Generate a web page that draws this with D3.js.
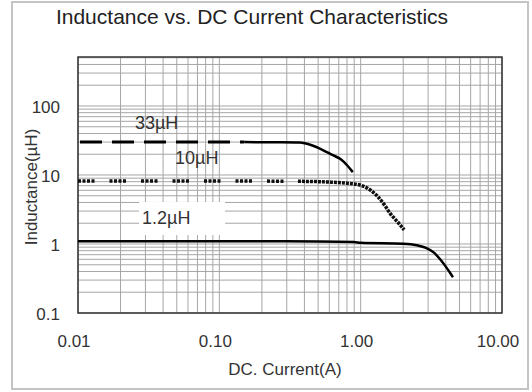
<!DOCTYPE html>
<html>
<head>
<meta charset="utf-8">
<script src="https://cdn.jsdelivr.net/npm/d3@7"></script>
<style>
  body { margin: 0; background: #fff; }
  svg { display: block; font-family: "Liberation Sans", Arial, sans-serif; }
</style>
</head>
<body>
<div id="chart"></div>
<script>
// axis ticks
var xTickValues = [0.01, 0.1, 1, 10];
var xTickLabels = ["0.01", "0.10", "1.00", "10.00"];
var yTickValues = [0.1, 1, 10, 100];
var yTickLabels = ["0.1", "1", "10", "100"];

// DC current (A) / inductance (uH)
var cur33 = [0.01, 0.03, 0.1, 0.15, 0.25, 0.37, 0.45, 0.54, 0.63, 0.72, 0.81, 0.88];
var ind33 = [30, 30, 30, 30, 29.8, 29.5, 27, 23, 19.5, 17, 13.5, 11];

var cur10 = [0.01, 0.03, 0.1, 0.36, 0.6, 0.8, 1.0, 1.15, 1.33, 1.5, 1.61, 1.75, 1.9, 2.03];
var ind10 = [8.2, 8.2, 8.2, 8.1, 7.9, 7.6, 7.1, 6.2, 4.8, 3.5, 2.8, 2.3, 1.9, 1.6];

var cur12 = [0.01, 0.1, 0.5, 0.9, 1.0, 2.0, 2.5, 2.9, 3.3, 3.65, 4.0, 4.3, 4.5];
var ind12 = [1.1, 1.1, 1.09, 1.07, 1.04, 1.01, 0.96, 0.88, 0.75, 0.6, 0.47, 0.38, 0.33];

var seriesLabels = ["33\u00b5H", "10\u00b5H", "1.2\u00b5H"];
var labelAt = [[0.0253, 58], [0.0486, 18], [0.0284, 2.38]];

var width = 532, height = 392;
var margin = { left: 78, right: 30, top: 57, bottom: 79 };

var svg = d3.select("#chart").append("svg")
  .attr("width", width)
  .attr("height", height);

// outer frame
svg.append("rect")
  .attr("x", 12).attr("y", 2)
  .attr("width", 516).attr("height", 387)
  .attr("fill", "#fff")
  .attr("stroke", "#c4c4c4")
  .attr("stroke-width", 2);

var x = d3.scaleLog()
  .domain([0.01, 10])
  .range([margin.left, width - margin.right]);

var y = d3.scaleLog()
  .domain([0.1, 513])
  .range([height - margin.bottom, margin.top]);

// grid lines
var g = svg.append("g");
g.selectAll(".vgrid")
  .data(x.ticks())
  .enter().append("line")
  .attr("x1", function(d) { return x(d); })
  .attr("x2", function(d) { return x(d); })
  .attr("y1", y.range()[0]).attr("y2", y.range()[1])
  .attr("stroke", "#a6a6a6")
  .attr("stroke-width", 1);

g.selectAll(".hgrid")
  .data(y.ticks().filter(function(d) { return d <= 513; }))
  .enter().append("line")
  .attr("y1", function(d) { return y(d); })
  .attr("y2", function(d) { return y(d); })
  .attr("x1", x.range()[0]).attr("x2", x.range()[1])
  .attr("stroke", "#a6a6a6")
  .attr("stroke-width", 1);

// white box behind the 1.2uH label
svg.append("rect")
  .attr("x", x(labelAt[2][0]) - 3)
  .attr("y", y(labelAt[2][1]) - 16)
  .attr("width", 86)
  .attr("height", 33)
  .attr("fill", "#fff");

// frame of plot area
svg.append("rect")
  .attr("x", x.range()[0]).attr("y", y.range()[1])
  .attr("width", x.range()[1] - x.range()[0])
  .attr("height", y.range()[0] - y.range()[1])
  .attr("fill", "none")
  .attr("stroke", "#333")
  .attr("stroke-width", 1.5);

var line = d3.line()
  .x(function(d) { return x(d[0]); })
  .y(function(d) { return y(d[1]); })
  .curve(d3.curveMonotoneX);

function pts(c, v, lo, hi) {
  var out = [];
  for (var i = 0; i < c.length; i++) {
    if (c[i] >= lo && c[i] <= hi) out.push([c[i], v[i]]);
  }
  return out;
}

// 33uH: long dashes, looks solid where excel points are dense
svg.append("path")
  .attr("d", line(pts(cur33, ind33, 0, 0.15)))
  .attr("fill", "none").attr("stroke", "#000")
  .attr("stroke-width", 3)
  .attr("stroke-dasharray", "22,10")
  .attr("stroke-dashoffset", -2);
svg.append("path")
  .attr("d", line(pts(cur33, ind33, 0.15, 10)))
  .attr("fill", "none").attr("stroke", "#000")
  .attr("stroke-width", 2.5);

// 10uH: square dots
svg.append("path")
  .attr("d", line(pts(cur10, ind10, 0, 0.36)))
  .attr("fill", "none").attr("stroke", "#111")
  .attr("stroke-width", 3.5)
  .attr("stroke-dasharray", "3,1.5,3,1.5,3,1.5,3,15");
svg.append("path")
  .attr("d", line(pts(cur10, ind10, 0.36, 10)))
  .attr("fill", "none").attr("stroke", "#111")
  .attr("stroke-width", 3.5)
  .attr("stroke-dasharray", "3,1");

// 1.2uH: solid
svg.append("path")
  .attr("d", line(pts(cur12, ind12, 0, 10)))
  .attr("fill", "none").attr("stroke", "#000")
  .attr("stroke-width", 2.5);

// series labels
svg.selectAll(".slabel")
  .data(seriesLabels)
  .enter().append("text")
  .attr("x", function(d, i) { return x(labelAt[i][0]); })
  .attr("y", function(d, i) { return y(labelAt[i][1]); })
  .attr("dy", "0.35em")
  .attr("fill", "#333")
  .style("font-size", "18px")
  .text(function(d) { return d; });

// tick labels
svg.selectAll(".xlab")
  .data(xTickValues)
  .enter().append("text")
  .attr("x", function(d) { return x(d) - 4; })
  .attr("y", 341)
  .attr("dy", "0.35em")
  .attr("text-anchor", "middle")
  .attr("fill", "#333")
  .style("font-size", "17px")
  .text(function(d, i) { return xTickLabels[i]; });

svg.selectAll(".ylab")
  .data(yTickValues)
  .enter().append("text")
  .attr("x", 60)
  .attr("y", function(d) { return y(d) + 1; })
  .attr("dy", "0.35em")
  .attr("text-anchor", "end")
  .attr("fill", "#333")
  .style("font-size", "17px")
  .text(function(d, i) { return yTickLabels[i]; });

// titles
svg.append("text")
  .attr("x", 252).attr("y", 17)
  .attr("dy", "0.35em")
  .attr("text-anchor", "middle")
  .attr("fill", "#222")
  .style("font-size", "21px")
  .text("Inductance vs. DC Current Characteristics");

svg.append("text")
  .attr("x", 285).attr("y", 369)
  .attr("dy", "0.35em")
  .attr("text-anchor", "middle")
  .attr("fill", "#333")
  .style("font-size", "17px")
  .text("DC. Current(A)");

svg.append("text")
  .attr("transform", "translate(31,187) rotate(-90)")
  .attr("dy", "0.35em")
  .attr("text-anchor", "middle")
  .attr("fill", "#333")
  .style("font-size", "17px")
  .text("Inductance(\u00b5H)");
</script>
</body>
</html>
